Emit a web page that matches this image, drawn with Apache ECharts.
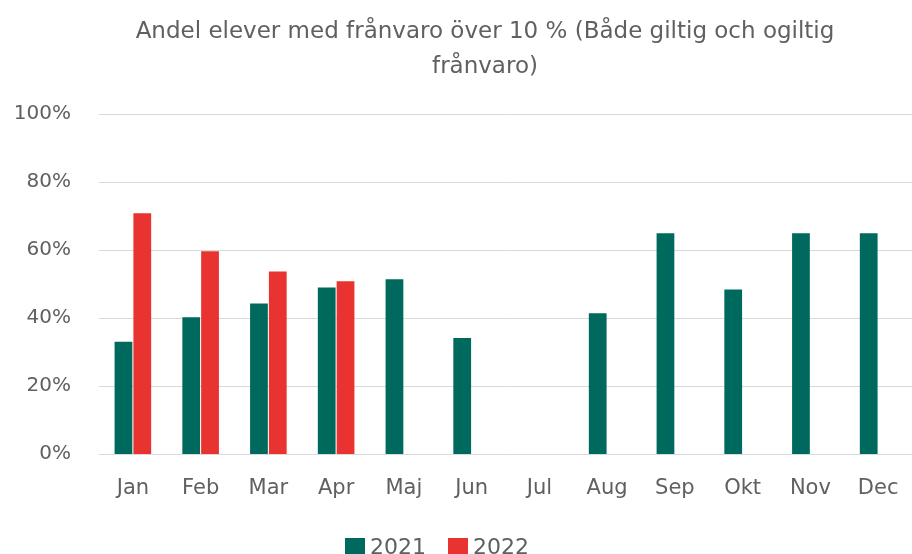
<!DOCTYPE html>
<html>
<head>
<meta charset="utf-8">
<script src="https://cdn.jsdelivr.net/npm/echarts@6/dist/echarts.min.js"></script>
<style>
html,body{margin:0;padding:0;background:#fff;}
#main{width:912px;height:554px;}
</style>
</head>
<body>
<div id="main"></div>
<script>
var months = ['Jan','Feb','Mar','Apr','Maj','Jun','Jul','Aug','Sep','Okt','Nov','Dec'];
var values2021 = [33.0, 40.2, 44.3, 49.0, 51.4, 34.1, null, 41.4, 64.9, 48.4, 64.9, 64.9];
var values2022 = [70.8, 59.6, 53.7, 50.8, null, null, null, null, null, null, null, null];
var yTicks = [0, 20, 40, 60, 80, 100];

var textColor = '#606060';
var font = 'DejaVu Sans';

var myChart = echarts.init(document.getElementById('main'));
var option = {
    animation: false,
    backgroundColor: '#fff',
    title: {
        text: 'Andel elever med frånvaro över 10 % (Både giltig och ogiltig\nfrånvaro)',
        left: 480,
        textAlign: 'center',
        top: 10,
        textStyle: {
            fontFamily: font,
            fontSize: 23,
            fontWeight: 'normal',
            color: textColor,
            lineHeight: 35
        }
    },
    legend: {
        left: 340,
        top: 532,
        itemWidth: 20,
        itemHeight: 20,
        itemGap: 22,
        icon: 'rect',
        textStyle: {fontFamily: font, fontSize: 22, color: textColor},
        data: ['2021', '2022']
    },
    grid: {
        left: 99,
        right: -14,
        top: 114,
        bottom: 100,
        containLabel: false
    },
    xAxis: {
        type: 'category',
        data: months,
        axisTick: {show: false},
        axisLine: {lineStyle: {color: '#D9D9D9', width: 1}},
        axisLabel: {
            fontFamily: font,
            fontSize: 21,
            color: textColor,
            margin: 24
        }
    },
    yAxis: {
        type: 'value',
        min: yTicks[0],
        max: yTicks[yTicks.length - 1],
        interval: 20,
        axisLine: {show: false},
        axisTick: {show: false},
        splitLine: {lineStyle: {color: '#D9D9D9', width: 1}},
        axisLabel: {
            fontFamily: font,
            fontSize: 20,
            color: textColor,
            margin: 28,
            formatter: '{value}%'
        }
    },
    series: [
        {
            name: '2021',
            type: 'bar',
            data: values2021,
            barGap: '6%',
            barCategoryGap: '46%',
            itemStyle: {color: '#00695E'}
        },
        {
            name: '2022',
            type: 'bar',
            data: values2022,
            itemStyle: {color: '#E83331'}
        }
    ]
};
myChart.setOption(option);
</script>
</body>
</html>
